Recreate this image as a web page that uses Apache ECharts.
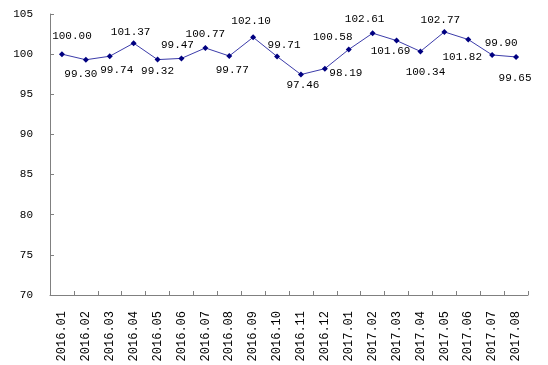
<!DOCTYPE html>
<html>
<head>
<meta charset="utf-8">
<script src="https://cdn.jsdelivr.net/npm/echarts@6/dist/echarts.min.js"></script>
<style>html,body{margin:0;padding:0;background:#fff}#c{width:548px;height:365px}</style>
</head>
<body>
<div id="c"></div>
<script>
const categories = ['2016.01','2016.02','2016.03','2016.04','2016.05','2016.06','2016.07','2016.08','2016.09','2016.10','2016.11','2016.12','2017.01','2017.02','2017.03','2017.04','2017.05','2017.06','2017.07','2017.08'];
const values = [100.00,99.30,99.74,101.37,99.32,99.47,100.77,99.77,102.10,99.71,97.46,98.19,100.58,102.61,101.69,100.34,102.77,101.82,99.90,99.65];
const yMin = 70, yMax = 105, yStep = 5;

// label placement (style only): offset from each point
const labelOffsets = [[10,-18],[-5,14],[7,14],[-3,-11],[0,11],[-4,-13],[0,-14],[3,14.5],[-2,-16],[7,-11],[2,11],[21,4],[-16,-12],[-8,-14],[-6,10.5],[5,21],[-4,-12],[-6,18],[9,-12],[-1,21]];

const chart = echarts.init(document.getElementById('c'), null, {renderer:'canvas'});
chart.setOption({
  animation:false,
  backgroundColor:'#fff',
  grid:{left:50, top:14, width:478, height:281},
  xAxis:{
    type:'category', data:categories, boundaryGap:true,
    axisLine:{lineStyle:{color:'#808080', width:1}},
    axisTick:{show:true, inside:true, length:4, alignWithLabel:false, lineStyle:{color:'#808080'}},
    axisLabel:{rotate:90, interval:0, margin:16, color:'#000', fontFamily:'Liberation Mono', fontSize:12}
  },
  yAxis:{
    type:'value', min:yMin, max:yMax, interval:yStep,
    splitLine:{show:false},
    axisLine:{show:true, lineStyle:{color:'#808080', width:1}},
    axisTick:{show:true, inside:true, length:4, lineStyle:{color:'#808080'}},
    axisLabel:{margin:17, color:'#000', fontFamily:'Liberation Mono', fontSize:11}
  },
  series:[{
    type:'line',
    data: values.map((v,i)=>({value:v, label:{offset:labelOffsets[i]}})),
    symbol:'diamond', symbolSize:6,
    lineStyle:{color:'#3c3caa', width:1},
    itemStyle:{color:'#000080'},
    label:{show:true, position:'inside', color:'#000', fontFamily:'Liberation Mono', fontSize:11,
      formatter:p=>Number(p.value).toFixed(2)}
  }]
});
</script>
</body>
</html>
